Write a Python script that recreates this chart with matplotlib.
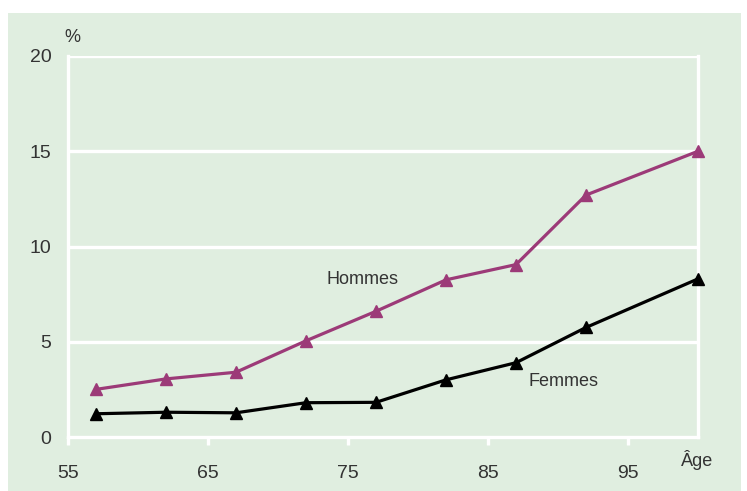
import matplotlib.pyplot as plt
from matplotlib.patches import Rectangle

ages = [57, 62, 67, 72, 77, 82, 87, 92, 100]
hommes = [2.5, 3.05, 3.4, 5.05, 6.6, 8.25, 9.05, 12.7, 15.0]
femmes = [1.22, 1.3, 1.27, 1.8, 1.82, 3.0, 3.9, 5.75, 8.3]
xticks = [55, 65, 75, 85, 95]
yticks = [0, 5, 10, 15, 20]

BG = '#e0eee0'
PURPLE = '#9c3a78'
TXT = '#333333'

plt.rcParams['font.family'] = ['Liberation Sans Narrow', 'Liberation Sans', 'DejaVu Sans']

fig = plt.figure(figsize=(7.47, 4.91), dpi=100)
fig.patch.set_facecolor('white')
# green panel behind the chart
fig.patches.append(Rectangle((8 / 747, 0), 733 / 747, 478 / 491,
                             transform=fig.transFigure, facecolor=BG,
                             edgecolor='none', zorder=-10))

ax = fig.add_axes([68 / 747, 54 / 491, 630 / 747, 381 / 491])
ax.set_facecolor(BG)

for y in yticks[1:]:
    ax.axhline(y, color='white', lw=2.4, zorder=1)

ax.plot(ages, hommes, color=PURPLE, lw=2.3, marker='^', ms=9, zorder=3, clip_on=False)
ax.plot(ages, femmes, color='black', lw=2.3, marker='^', ms=9, zorder=3, clip_on=False)

ax.set_xlim(55, 100)
ax.set_ylim(0, 20)
ax.set_xticks(xticks)
ax.set_yticks(yticks)

for side in ['left', 'bottom', 'right']:
    ax.spines[side].set_color('white')
    ax.spines[side].set_linewidth(2.4)
ax.spines['top'].set_visible(False)

ax.tick_params(axis='x', colors='white', direction='out', length=6, width=2.4,
               labelcolor=TXT, labelsize=14, pad=14)
ax.tick_params(axis='y', length=0, labelcolor=TXT, labelsize=14, pad=12)


def px(x, y):
    return x / 747, 1 - y / 491


fig.text(*px(363, 280), 'Hommes', fontsize=13, color=TXT, ha='center', va='center')
fig.text(*px(563, 382), 'Femmes', fontsize=13, color=TXT, ha='center', va='center')
fig.text(*px(72, 38), '%', fontsize=13, color=TXT, ha='center', va='center')
fig.text(*px(697, 460), 'Âge', fontsize=13, color=TXT, ha='center', va='center')

fig.savefig('out.png', dpi=100)
